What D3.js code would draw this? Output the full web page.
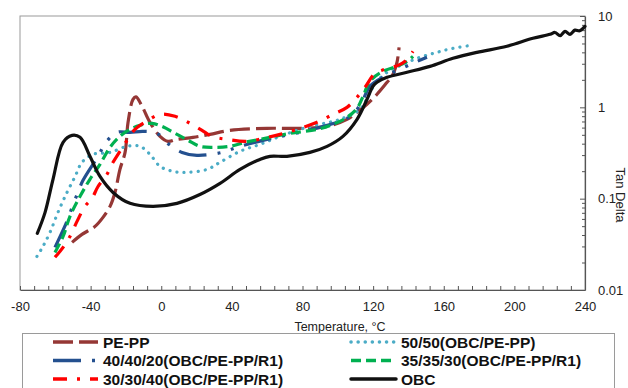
<!DOCTYPE html>
<html>
<head>
<meta charset="utf-8">
<script src="https://cdn.jsdelivr.net/npm/d3@7"></script>
<style>
  body { margin: 0; background: #fff; }
  svg { display: block; font-family: "Liberation Sans", Arial, sans-serif; }
</style>
</head>
<body>
<svg id="chart" width="628" height="388"></svg>
<script>
// tan delta vs temperature as [°C, tan delta]
const pePP = [[-50.5,0.0332],[-44.9,0.0406],[-37.5,0.0497],[-33.0,0.0624],[-29.0,0.0824],[-26.2,0.117],[-23.4,0.209],[-20.5,0.321],[-18.8,0.685],[-16.0,1.22],[-14.3,1.3],[-10.9,1.03],[-6.4,0.685],[-0.7,0.481],[3.8,0.424],[8.9,0.446],[18.0,0.469],[27.6,0.506],[38.9,0.56],[59.9,0.589],[78.6,0.589],[93.9,0.619],[105.2,0.739],[110.9,0.882],[116.5,1.08],[122.2,1.39],[127.9,1.88],[130.7,2.19],[133.5,3.11],[134.7,4.54]];
const obcPePP5050 = [[-70.4,0.0233],[-67.0,0.030],[-63.0,0.0428],[-58.5,0.0708],[-53.4,0.117],[-48.8,0.175],[-44.9,0.25],[-38.7,0.306],[-29.0,0.321],[-19.4,0.374],[-12.0,0.374],[-6.4,0.306],[-0.7,0.226],[6.7,0.199],[14.6,0.194],[25.9,0.209],[33.3,0.25],[44.6,0.33],[55.9,0.393],[67.3,0.481],[78.6,0.574],[89.9,0.652],[101.2,0.739],[112.6,0.951],[118.2,1.46],[122.2,1.93],[127.9,2.42],[136.9,2.96],[146.6,3.53],[156.2,4.0],[165.2,4.43],[176.0,4.78]];
const r1_404020 = [[-60.2,0.0293],[-53.4,0.0564],[-50.5,0.0803],[-47.2,0.117],[-44.3,0.159],[-35.8,0.291],[-31.3,0.414],[-25.1,0.532],[-17.7,0.532],[-10.3,0.546],[-2.4,0.519],[4.4,0.393],[11.8,0.321],[20.2,0.298],[34.4,0.321],[44.6,0.374],[59.9,0.446],[78.6,0.532],[89.9,0.604],[101.2,0.703],[108.6,0.838],[114.3,1.22],[118.2,1.7],[126.7,2.19],[135.2,2.61],[143.7,3.11],[150.5,3.53]];
const r1_353530 = [[-60.2,0.0258],[-55.6,0.0386],[-51.7,0.064],[-46.0,0.106],[-40.4,0.163],[-34.7,0.238],[-29.0,0.365],[-23.4,0.481],[-17.7,0.574],[-12.0,0.635],[-5.2,0.668],[0.4,0.619],[7.8,0.519],[15.2,0.435],[21.9,0.374],[30.4,0.365],[38.9,0.374],[47.4,0.414],[58.8,0.457],[72.9,0.519],[88.2,0.574],[97.3,0.652],[105.2,0.777],[110.9,0.975],[114.3,1.32],[118.2,1.93],[125.6,2.48],[133.5,2.81],[139.2,3.19],[142.6,3.62]];
const r1_303040 = [[-60.2,0.0228],[-55.6,0.0293],[-51.7,0.0386],[-47.7,0.0564],[-43.2,0.0824],[-39.2,0.101],[-35.8,0.136],[-30.7,0.185],[-27.3,0.25],[-23.4,0.33],[-19.4,0.435],[-14.9,0.574],[-7.5,0.721],[-0.7,0.838],[7.8,0.797],[16.3,0.668],[23.1,0.56],[28.7,0.481],[37.2,0.446],[48.6,0.424],[59.9,0.469],[67.3,0.506],[76.9,0.574],[88.2,0.685],[97.3,0.838],[105.2,1.0],[110.9,1.29],[115.4,1.66],[121.1,2.36],[126.7,2.61],[134.1,2.88],[138.1,3.19],[142.6,4.11]];
const obc = [[-70.2,0.0417],[-65.8,0.0708],[-61.3,0.163],[-55.6,0.414],[-50.5,0.493],[-46.0,0.469],[-40.4,0.291],[-34.7,0.175],[-27.3,0.117],[-17.7,0.0889],[-4.7,0.0824],[8.9,0.0889],[21.9,0.111],[33.3,0.147],[44.6,0.209],[55.9,0.269],[61.6,0.291],[71.2,0.291],[84.2,0.321],[93.9,0.374],[102.9,0.481],[110.9,0.739],[116.5,1.22],[119.9,1.7],[122.2,1.88],[127.9,2.13],[139.2,2.42],[152.2,2.81],[165.2,3.44],[178.8,4.0],[195.8,4.66],[210.5,5.7],[220.2,6.3],[223.0,6.6],[225.9,6.1],[228.7,6.8],[231.5,6.3],[234.3,7.0],[237.0,6.9],[240.0,7.7]];

const seriesNames = ["PE-PP", "50/50(OBC/PE-PP)", "40/40/20(OBC/PE-PP/R1)", "35/35/30(OBC/PE-PP/R1)", "30/30/40(OBC/PE-PP/R1)", "OBC"];
const seriesData = [pePP, obcPePP5050, r1_404020, r1_353530, r1_303040, obc];

const xTickValues = d3.range(-80, 241, 8);
const xLabelStep = 40;
const yMajorTicks = [0.01, 0.1, 1, 10];

// styling per series (Excel-ish dash patterns)
const seriesColor = ["#953735", "#4bacc6", "#24508f", "#00b050", "#ff0000", "#111111"];
const seriesDash = ["20,6", "0.1,7", "28,11,3,11,3,11", "10,5", "14,10,3,10", null];
const seriesCap = ["butt", "round", "butt", "butt", "butt", "round"];

const svg = d3.select("svg#chart");

const x = d3.scaleLinear().domain([-80, 240]).range([20, 585]);
const y = d3.scaleLog().domain([0.01, 10]).range([290, 16]);

// frame
svg.append("rect")
  .attr("x", x.range()[0]).attr("y", y.range()[1])
  .attr("width", x.range()[1] - x.range()[0])
  .attr("height", y.range()[0] - y.range()[1])
  .attr("fill", "none").attr("stroke", "#9a9a9a").attr("stroke-width", 1);

// x axis, ticks pointing up
let g_x = svg.append("g").attr("transform", `translate(0,${y.range()[0]})`);
g_x.call(d3.axisBottom(x)
  .tickValues(xTickValues)
  .tickSizeInner(-4).tickSizeOuter(0).tickPadding(12)
  .tickFormat(d => (d % xLabelStep === 0 ? String(d) : "")));

// y axis on the right, log
let yMinor = [];
yMajorTicks.slice(0, -1).forEach(m => { for (let k = 2; k < 10; k++) yMinor.push(m * k); });
let g_y = svg.append("g").attr("transform", `translate(${x.range()[1]},0)`);
g_y.call(d3.axisRight(y)
  .tickValues(yMajorTicks)
  .tickSizeInner(-5).tickSizeOuter(0).tickPadding(13)
  .tickFormat(d3.format("~g")));
let g_y2 = svg.append("g").attr("transform", `translate(${x.range()[1]},0)`);
g_y2.call(d3.axisRight(y).tickValues(yMinor).tickSizeInner(-3).tickSizeOuter(0).tickFormat(""));
g_y2.select(".domain").remove();

svg.selectAll(".domain").attr("stroke", "#555").attr("stroke-width", 1.2);
svg.selectAll(".tick line").attr("stroke", "#555");
svg.selectAll(".tick text").attr("font-size", 13).attr("fill", "#222")
  .attr("font-family", '"Liberation Sans", Arial, sans-serif');
g_y.selectAll(".tick text").attr("text-anchor", "start");

// curves
let line = d3.line()
  .x(d => x(d[0]))
  .y(d => y(d[1]))
  .curve(d3.curveCatmullRom.alpha(0.5));

let g_data = svg.append("g");
seriesData.forEach((data, i) => {
  g_data.append("path")
    .attr("d", line(data))
    .attr("fill", "none")
    .attr("stroke", seriesColor[i])
    .attr("stroke-width", 3.2)
    .attr("stroke-linecap", seriesCap[i])
    .attr("stroke-linejoin", "round")
    .attr("stroke-dasharray", seriesDash[i]);
});

// axis titles
svg.append("text")
  .attr("x", 340).attr("y", 331)
  .attr("text-anchor", "middle")
  .attr("font-size", 12.5).attr("fill", "#222")
  .text("Temperature, °C");

svg.append("text")
  .attr("transform", "translate(616,195) rotate(90)")
  .attr("text-anchor", "middle")
  .attr("font-size", 13).attr("fill", "#222")
  .text("Tan Delta");

// legend (two columns, row-wise like Excel)
let g_leg = svg.append("g");
g_leg.append("rect")
  .attr("x", 22.5).attr("y", 333.5)
  .attr("width", 592).attr("height", 70)
  .attr("fill", "#fff").attr("stroke", "#9a9a9a");

const legColX = [53, 351];
const legRowY = [347.5, 366, 384.5];
seriesNames.forEach((name, i) => {
  let cx = legColX[i % 2];
  let by = legRowY[Math.floor(i / 2)];
  g_leg.append("line")
    .attr("x1", cx).attr("x2", cx + 45)
    .attr("y1", by - 5.5).attr("y2", by - 5.5)
    .attr("stroke", seriesColor[i])
    .attr("stroke-width", 3.5)
    .attr("stroke-linecap", seriesCap[i])
    .attr("stroke-dasharray", seriesDash[i]);
  g_leg.append("text")
    .attr("x", cx + 50).attr("y", by)
    .attr("font-size", 15.5).attr("font-weight", "bold").attr("fill", "#111")
    .text(name);
});
</script>
</body>
</html>
